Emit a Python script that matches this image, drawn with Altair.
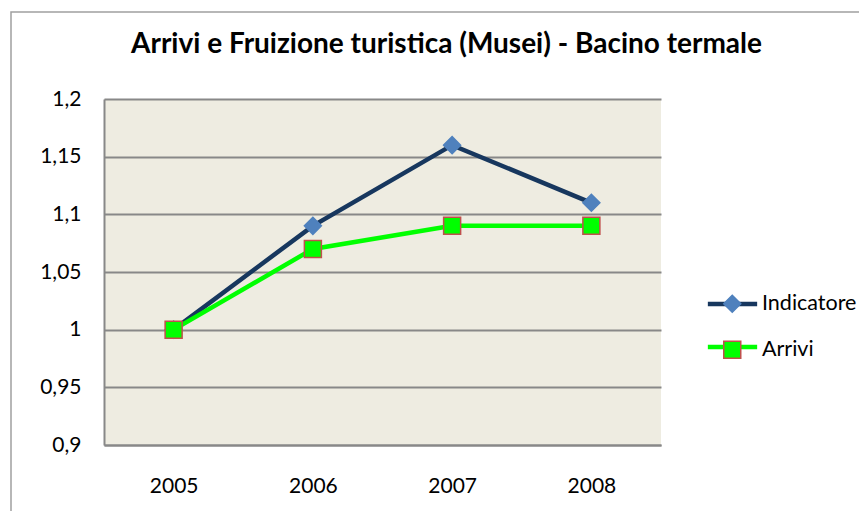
import altair as alt
import pandas as pd

years = ["2005", "2006", "2007", "2008"]
series_names = ["Indicatore", "Arrivi"]
indicatore = [1.0, 1.09, 1.16, 1.11]
arrivi = [1.0, 1.07, 1.09, 1.09]

line_keys = [n + " (linea)" for n in series_names]

rows = []
for name, key, vals in zip(series_names, line_keys, [indicatore, arrivi]):
    for y, v in zip(years, vals):
        rows.append({"year": y, "value": v, "line": key, "serie": name})
df = pd.DataFrame(rows)

FONT = "Lato"
line_colors = ["#17375E", "#00FF00"]
fill_colors = ["#4F81BD", "#00FF00"]
stroke_colors = ["#4F81BD", "#C0504D"]
shapes = ["diamond", "square"]

W, H = 557, 346

x_enc = alt.X(
    "year:N",
    scale=alt.Scale(type="point", padding=0.5),
    axis=alt.Axis(
        title=None, labelAngle=0, ticks=False, tickSize=0, grid=False,
        domainColor="#888888", domainWidth=2, labelPadding=30,
        labelFont=FONT, labelFontSize=21, labelColor="black",
    ),
)
y_enc = alt.Y(
    "value:Q",
    scale=alt.Scale(domain=[0.9, 1.2], nice=False, zero=False),
    axis=alt.Axis(
        title=None, values=[0.9, 0.95, 1.0, 1.05, 1.1, 1.15, 1.2],
        labelExpr="replace(format(datum.value, '~g'), '.', ',')",
        ticks=False, tickSize=0, grid=True, gridColor="#888888", gridWidth=2,
        domainColor="#888888", domainWidth=2, labelPadding=23,
        labelFont=FONT, labelFontSize=21, labelColor="black",
    ),
)

leg_x = 617.5
leg_y = 194

line_legend = alt.Legend(
    title=None, orient="none", legendX=leg_x, legendY=leg_y, direction="vertical",
    symbolType="M-2.9,0H2.9", symbolSize=289, symbolStrokeWidth=4.5,
    labelExpr="' '", labelOpacity=0, labelFontSize=21, labelFont=FONT, labelOffset=19,
    rowPadding=22, padding=0, zindex=0,
)
point_legend = alt.Legend(
    title=None, orient="none", legendX=leg_x, legendY=leg_y, direction="vertical",
    symbolSize=289, symbolStrokeWidth=1.5, symbolOpacity=1,
    labelFontSize=21.5, labelFont=FONT, labelColor="black", labelOffset=19,
    rowPadding=22, padding=0, zindex=1,
)

frame = alt.Chart(alt.Data(values=[{"a": 1}])).mark_rect(
    fill="transparent", stroke="#A0A0A0", strokeWidth=1.5
).encode(
    x=alt.value(-93), x2=alt.value(900), y=alt.value(-87), y2=alt.value(600)
)

lines = alt.Chart(df).mark_line(strokeWidth=4.5).encode(
    x=x_enc, y=y_enc,
    color=alt.Color("line:N", scale=alt.Scale(domain=line_keys, range=line_colors),
                    legend=line_legend),
)

points = alt.Chart(df).mark_point(filled=True, size=289, opacity=1, strokeWidth=1.5).encode(
    x=x_enc, y=y_enc,
    fill=alt.Fill("serie:N", scale=alt.Scale(domain=series_names, range=fill_colors),
                  legend=point_legend),
    stroke=alt.Stroke("serie:N", scale=alt.Scale(domain=series_names, range=stroke_colors),
                      legend=point_legend),
    shape=alt.Shape("serie:N", scale=alt.Scale(domain=series_names, range=shapes),
                    legend=point_legend),
)

chart = alt.layer(frame, lines, points).properties(
    width=W, height=H,
    title=alt.TitleParams(
        "Arrivi e Fruizione turistica (Musei) - Bacino termale",
        font=FONT, fontSize=28, fontWeight="bold", color="black",
        anchor="middle", dx=64, offset=0, dy=70, baseline="alphabetic",
    ),
    autosize=alt.AutoSizeParams(type="none"),
    padding={"left": 96, "top": 91, "right": 198, "bottom": 66},
    background="white",
).configure_view(fill="#EEECE1", stroke=None)

chart.save("out.html", embed_options={"renderer": "svg", "actions": False})
